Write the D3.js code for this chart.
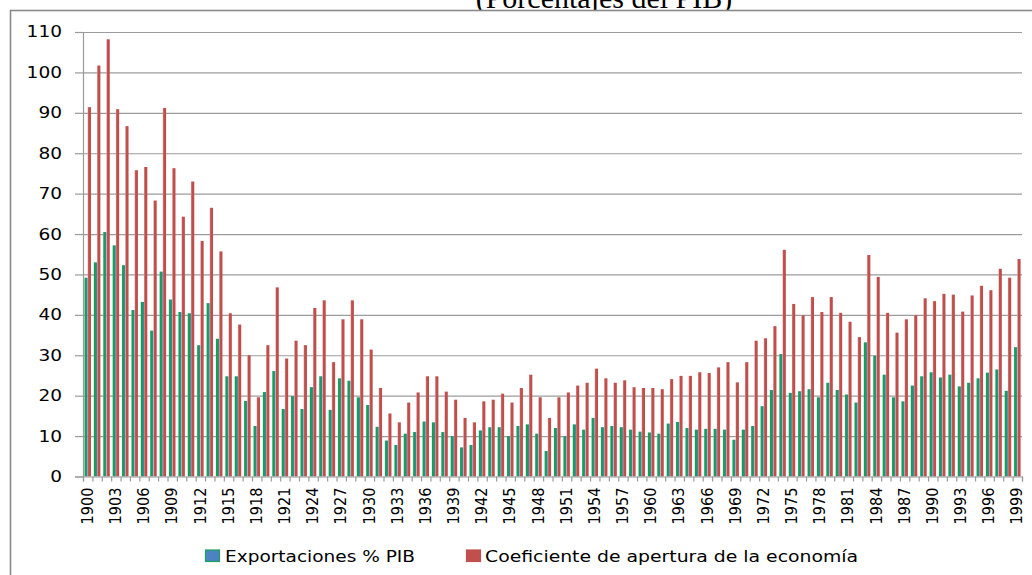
<!DOCTYPE html>
<html><head><meta charset="utf-8">
<script src="https://cdn.jsdelivr.net/npm/d3@7"></script>
<style>body{margin:0;background:#fff}svg{display:block}</style>
</head><body>
<script>
const years = d3.range(1900, 2000);
const exportaciones = [
  49.2,53.0,60.5,57.2,52.3,41.2,43.2,36.1,50.7,43.8,
  40.7,40.4,32.5,42.9,34.1,24.8,24.8,18.7,12.5,20.9,
  26.1,16.7,19.9,16.7,22.1,24.8,16.5,24.3,23.7,19.6,
  17.7,12.3,8.9,7.8,10.6,11.0,13.6,13.4,11.0,10.0,
  7.2,7.8,11.4,12.2,12.2,10.0,12.5,12.9,10.6,6.3,
  12.0,10.0,12.9,11.6,14.5,12.2,12.5,12.2,11.6,11.1,
  10.9,10.6,13.1,13.5,12.0,11.6,11.8,11.8,11.6,9.1,
  11.6,12.5,17.4,21.4,30.3,20.7,21.1,21.6,19.6,23.2,
  21.4,20.3,18.3,33.2,29.9,25.2,19.6,18.6,22.5,24.8,
  25.8,24.5,25.2,22.3,23.2,24.3,25.7,26.5,21.2,32.0
];
const apertura = [
  91.4,101.7,108.2,90.9,86.7,75.8,76.6,68.3,91.2,76.3,
  64.3,73.0,58.3,66.5,55.7,40.4,37.6,30.0,19.6,32.5,
  46.8,29.2,33.6,32.5,41.7,43.6,28.3,38.9,43.6,38.9,
  31.4,21.9,15.6,13.4,18.3,20.8,24.8,24.8,21.0,19.0,
  14.5,13.4,18.6,19.0,20.5,18.3,21.9,25.2,19.6,14.5,
  19.6,20.8,22.5,23.2,26.7,24.3,23.2,23.8,22.1,21.9,
  21.9,21.6,24.1,24.9,24.9,25.8,25.6,27.0,28.3,23.3,
  28.3,33.6,34.2,37.2,56.1,42.7,39.9,44.4,40.7,44.4,
  40.5,38.3,34.5,54.8,49.4,40.5,35.6,38.9,39.9,44.1,
  43.4,45.2,45.0,40.8,44.8,47.2,46.1,51.4,49.2,53.8
];
const yTicks = [0,10,20,30,40,50,60,70,80,90,100,110];
const xTickLabels = [1900,1903,1906,1909,1912,1915,1918,1921,1924,1927,1930,1933,1936,1939,1942,1945,1948,1951,1954,1957,1960,1963,1966,1969,1972,1975,1978,1981,1984,1987,1990,1993,1996,1999];
const seriesNames = ["Exportaciones % PIB", "Coeficiente de apertura de la economía"];
const titleText = "(Porcentajes del PIB)";

const W = 1032, H = 575;
const L = 83, R = 1022, T = 32, B = 476.5;
const svg = d3.select("body").append("svg").attr("width", W).attr("height", H);

const defs = svg.append("defs");
const gG = defs.append("linearGradient").attr("id","gGreen").attr("x1","0").attr("x2","1").attr("y1","0").attr("y2","0");
gG.append("stop").attr("offset","0").attr("stop-color","#3dbb7a");
gG.append("stop").attr("offset","0.2").attr("stop-color","#10a055");
gG.append("stop").attr("offset","0.55").attr("stop-color","#189c62");
gG.append("stop").attr("offset","1").attr("stop-color","#4f7fc0");
const gR = defs.append("linearGradient").attr("id","gRed").attr("x1","0").attr("x2","1").attr("y1","0").attr("y2","0");
gR.append("stop").attr("offset","0").attr("stop-color","#dc9a98");
gR.append("stop").attr("offset","0.3").attr("stop-color","#c0504d");
gR.append("stop").attr("offset","1").attr("stop-color","#bf4e4b");
const gL = defs.append("linearGradient").attr("id","gLeg").attr("x1","0").attr("x2","1").attr("y1","0").attr("y2","0");
gL.append("stop").attr("offset","0").attr("stop-color","#4a86c4");
gL.append("stop").attr("offset","1").attr("stop-color","#4f7fc0");

// title (partially clipped at top, as in the reference)
svg.append("text").attr("x", 604).attr("y", 7.5).attr("text-anchor","middle")
  .attr("font-family","'Liberation Serif', 'Times New Roman', serif").attr("font-size", 30)
  .attr("fill","#000").text(titleText);

// chart frame
svg.append("rect").attr("x", 10.5).attr("y", 10.5).attr("width", W).attr("height", H)
  .attr("fill","#fff").attr("stroke","#8a8a8a").attr("stroke-width", 1.6);

const y = d3.scaleLinear().domain([0, 110]).range([B, T]);
const x0 = d3.scaleBand().domain(years).range([L, R]).paddingInner(0.3).paddingOuter(0.15);
const x1 = d3.scaleBand().domain([0, 1]).range([0, x0.bandwidth()]);
const xl = d3.scaleLinear().domain([1900, 2000]).range([L, R]);

// gridlines
const grid = svg.append("g").attr("transform", `translate(${L},0)`)
  .call(d3.axisLeft(y).tickValues(yTicks.filter(d => d > 0)).tickSize(-(R - L)).tickFormat(""));
grid.select(".domain").remove();
grid.selectAll("line").attr("stroke","#9c9c9c").attr("stroke-width",1.2);

// y axis
const ya = svg.append("g").attr("transform", `translate(${L},0)`)
  .call(d3.axisLeft(y).tickValues(yTicks).tickSize(8).tickPadding(13));
ya.select(".domain").attr("stroke","#9a9a9a").attr("stroke-width",1.2);
ya.selectAll("line").attr("stroke","#9a9a9a").attr("stroke-width",1.2);
ya.selectAll("text").attr("font-family","'DejaVu Sans', sans-serif").attr("font-size",15.5).attr("fill","#000")
  .attr("textLength", d => String(d).length * 11.8).attr("lengthAdjust","spacingAndGlyphs");

// bars
const series = [exportaciones, apertura];
const fills = ["url(#gGreen)", "url(#gRed)"];
series.forEach((vals, si) => {
  svg.append("g").selectAll("rect").data(years).join("rect")
    .attr("x", (d) => x0(d) + x1(si))
    .attr("width", x1.bandwidth())
    .attr("y", (d, i) => y(vals[i]))
    .attr("height", (d, i) => y(0) - y(vals[i]))
    .attr("fill", fills[si]);
});

// x axis: boundary ticks
const xa = svg.append("g").attr("transform", `translate(0,${B})`)
  .call(d3.axisBottom(xl).tickValues(d3.range(1900, 2001)).tickSize(5).tickFormat(""));
xa.select(".domain").attr("stroke","#9a9a9a").attr("stroke-width",1.2);
xa.selectAll("line").attr("stroke","#9a9a9a").attr("stroke-width",1.2);

// x labels
const xlab = svg.append("g").attr("transform", `translate(0,${B})`)
  .call(d3.axisBottom(x0).tickValues(xTickLabels).tickSize(0).tickPadding(0));
xlab.select(".domain").remove();
xlab.selectAll("text")
  .attr("font-family","'DejaVu Sans', sans-serif").attr("font-size",15.5).attr("fill","#000")
  .attr("transform","rotate(-90)").attr("text-anchor","end")
  .attr("x",-11).attr("y",0).attr("dy","0.33em")
  .attr("textLength", 37).attr("lengthAdjust","spacingAndGlyphs");

// legend
const legendItems = [
  {name: seriesNames[0], fill: "url(#gLeg)", stroke: "#1aa35c", sx: 205, tx: 225, len: 190},
  {name: seriesNames[1], fill: "#c0504d", stroke: "#c0504d", sx: 466, tx: 485, len: 373}
];
const lg = svg.append("g");
legendItems.forEach(it => {
  lg.append("rect").attr("x", it.sx + 0.5).attr("y", 550).attr("width", 14).attr("height", 11.5)
    .attr("fill", it.fill).attr("stroke", it.stroke).attr("stroke-width", 1.2);
  lg.append("text").attr("x", it.tx).attr("y", 562)
    .attr("font-family","'DejaVu Sans', sans-serif").attr("font-size",16).attr("fill","#000")
    .attr("textLength", it.len).attr("lengthAdjust","spacingAndGlyphs")
    .text(it.name);
});
</script>
</body></html>
